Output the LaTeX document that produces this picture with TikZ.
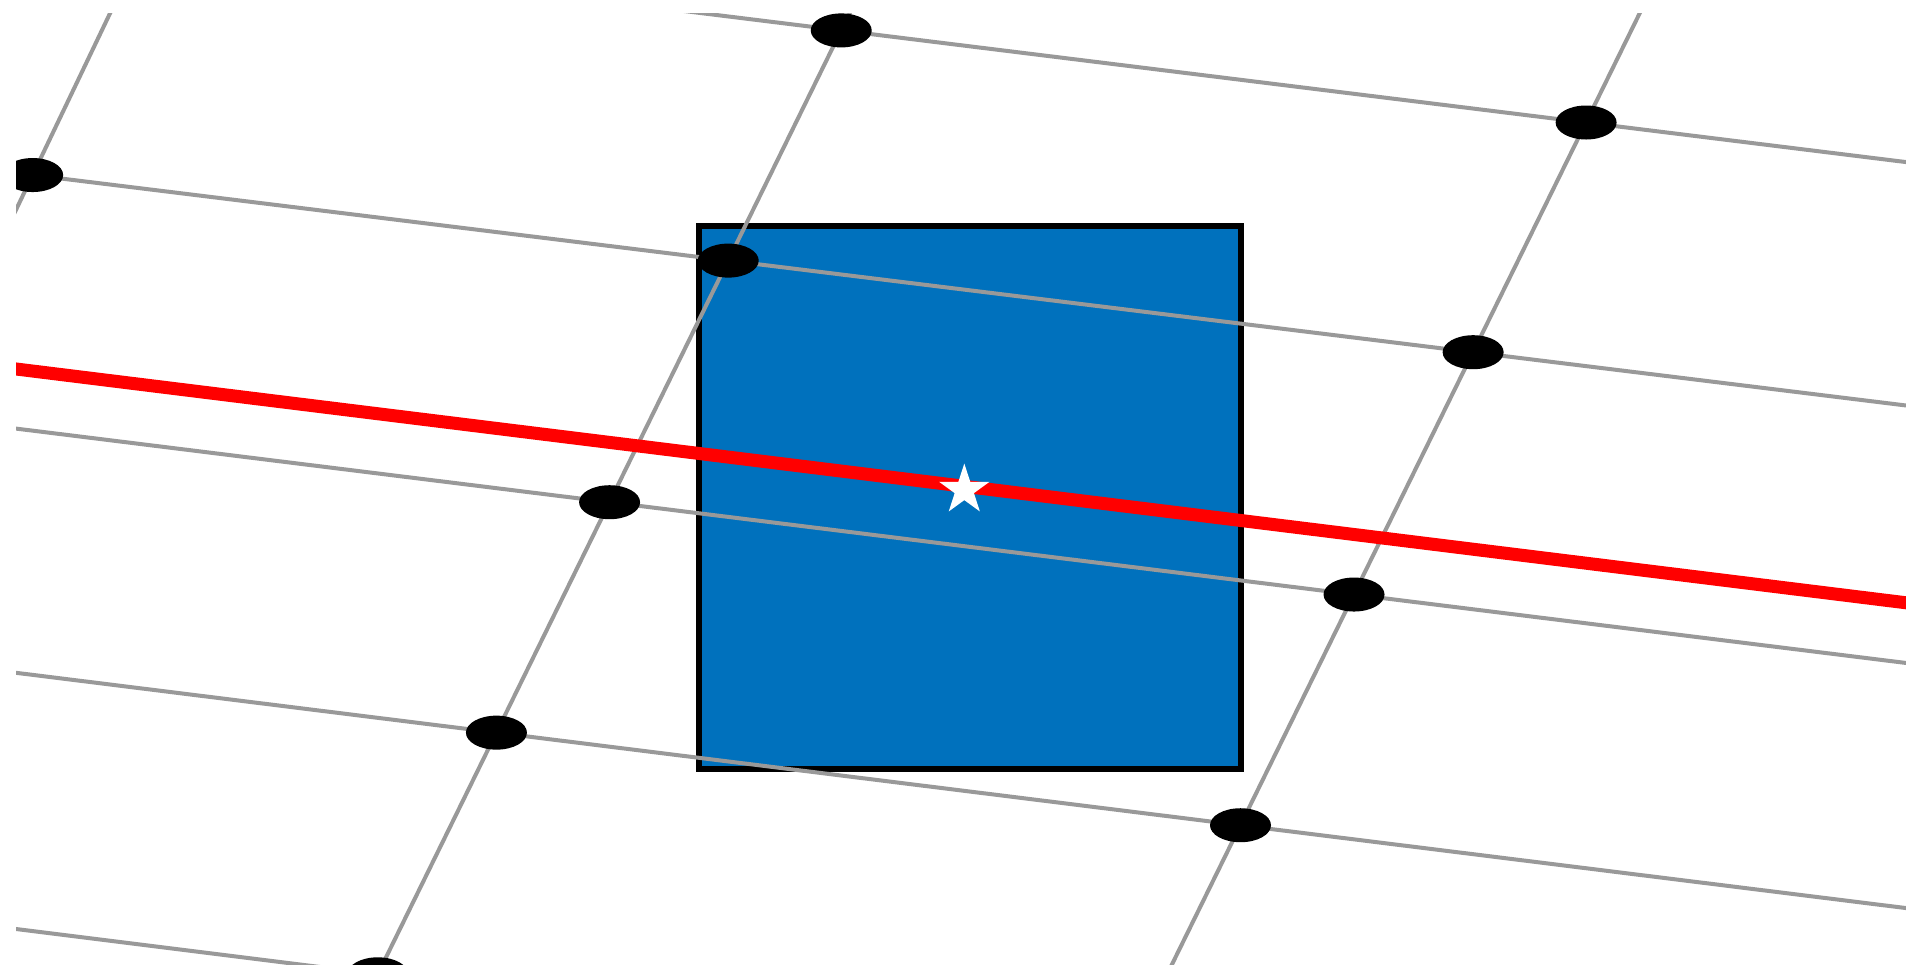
\documentclass[tikz,border=0pt]{standalone}
\usetikzlibrary{shapes.geometric,calc,intersections}
\definecolor{gridgrey}{RGB}{153,153,153}
\definecolor{boxblue}{RGB}{0,113,189}
\definecolor{routered}{RGB}{255,0,0}
\begin{document}
\begin{tikzpicture}[x=1pt,y=-1pt,
  gridline/.style={draw=gridgrey,line width=4pt},
  gdot/.style={ellipse,fill=black,minimum width=61pt,minimum height=34pt,inner sep=0pt},
  bluebox/.style={draw=black,fill=boxblue,line width=6pt},
  redpath/.style={draw=routered,line width=13pt},
  whitestar/.style={star,star points=5,star point ratio=2.618,minimum size=53pt,inner sep=0pt,fill=white}]
\fill[white] (0,0) rectangle (1906,964);
\useasboundingbox (0,0) rectangle (1906,964);
% line end points
\coordinate (r0s) at (600,0.6);   \coordinate (r0e) at (1920,163.8);
\coordinate (r1s) at (0,171);     \coordinate (r1e) at (1920,407.2);
\coordinate (r2s) at (0,426.6);   \coordinate (r2e) at (1920,664.7);
\coordinate (r3s) at (0,670.8);   \coordinate (r3e) at (1920,909.8);
\coordinate (r4s) at (0,927);     \coordinate (r4e) at (500,989.5);
\coordinate (cms) at (116.4,0);   \coordinate (cme) at (-8,260);
\coordinate (c0s) at (856.1,0);   \coordinate (c0e) at (374.9,980);
\coordinate (c1s) at (1646.2,0);  \coordinate (c1e) at (1164.3,980);
\coordinate (reds) at (0,367);    \coordinate (rede) at (1920,604.5);
\begin{scope}
\clip (16,13) rectangle (1906,964);
\path[bluebox] (699,226.3) rectangle (1241,769.3);
\foreach \a in {r0,r1,r2,r3,r4,cm,c0,c1}{\draw[gridline] (\a s) -- (\a e);}
\node[gdot] (d00) at (intersection of r0s--r0e and c0s--c0e) {};
\node[gdot] (d10) at (intersection of r0s--r0e and c1s--c1e) {};
\node[gdot] (dm1) at (intersection of r1s--r1e and cms--cme) {};
\node[gdot] (d01) at (intersection of r1s--r1e and c0s--c0e) {};
\node[gdot] (d11) at (intersection of r1s--r1e and c1s--c1e) {};
\node[gdot] (d02) at (intersection of r2s--r2e and c0s--c0e) {};
\node[gdot] (d12) at (intersection of r2s--r2e and c1s--c1e) {};
\node[gdot] (d03) at (intersection of r3s--r3e and c0s--c0e) {};
\node[gdot] (d13) at (intersection of r3s--r3e and c1s--c1e) {};
\node[gdot] (d04) at (intersection of r4s--r4e and c0s--c0e) {};
\draw[redpath] (reds) -- (rede);
\node[whitestar] (st) at (964.3,490) {};
\end{scope}
\end{tikzpicture}
\end{document}
